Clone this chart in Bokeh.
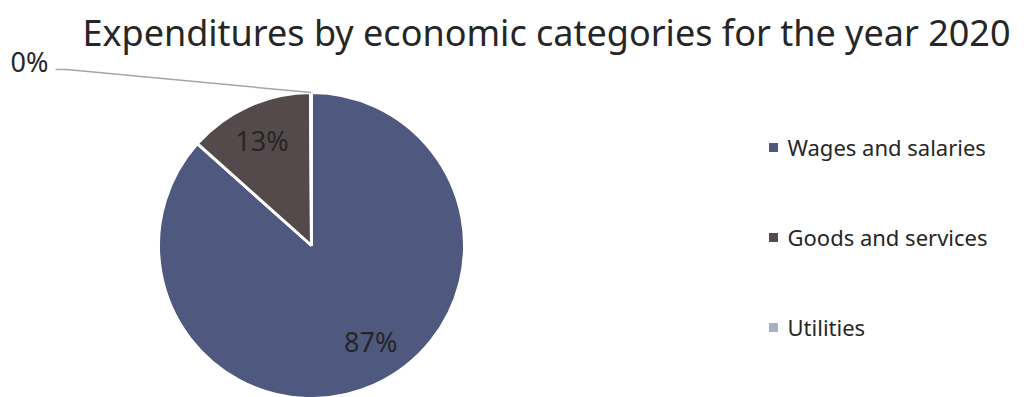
import math
from bokeh.plotting import figure
from bokeh.models import ColumnDataSource, Range1d
from bokeh.core.properties import value
from bokeh.embed import file_html
from bokeh.resources import INLINE

title = "Expenditures by economic categories for the year 2020"
categories = ["Wages and salaries", "Goods and services", "Utilities"]
shares = [86.6, 13.3, 0.1]
labels = ["87%", "13%", "0%"]
colors = ["#4F587F", "#554A4B", "#A8AFCB"]

W, H = 1024, 397
p = figure(width=W, height=H, output_backend="svg", toolbar_location=None,
           x_range=Range1d(0, W), y_range=Range1d(0, H), min_border=0)
p.axis.visible = False
p.grid.visible = False
p.outline_line_color = None
p.background_fill_color = "white"
p.border_fill_color = "white"

FONT = value("Noto Sans")
TXT = "#262626"

cx, cy, r = 311, H - 245, 153
total = sum(shares)
starts, ends, lx, ly = [], [], [], []
cum = 0.0
for s in shares:
    a0 = math.pi / 2 - cum / total * 2 * math.pi
    cum += s
    a1 = math.pi / 2 - cum / total * 2 * math.pi
    starts.append(a0)
    ends.append(a1)
    mid = (a0 + a1) / 2
    lx.append(cx + 0.74 * r * math.cos(mid))
    ly.append(cy + 0.74 * r * math.sin(mid))

src = ColumnDataSource(dict(start=starts, end=ends, color=colors))
p.wedge(x=cx, y=cy, radius=r, start_angle="start", end_angle="end",
        direction="clock", fill_color="color", line_color="white",
        line_width=3, source=src)

# in-slice labels for the two visible slices (nudged like the original's best-fit)
lab_src = ColumnDataSource(dict(x=lx[:2], y=ly[:2], text=labels[:2],
                                dx=[13, -3], dy=[-7, -2]))
p.text(x="x", y="y", text="text", x_offset="dx", y_offset="dy",
       text_align="center", text_baseline="middle", text_font=FONT,
       text_font_size="27px", text_color=TXT, source=lab_src)

# leader line for the tiny slice
mid_u = (starts[2] + ends[2]) / 2
ex, ey = cx + r * math.cos(mid_u), cy + r * math.sin(mid_u)
p.line(x=[55, 66, ex], y=[H - 69, H - 69, ey], line_color="#A6A6A6", line_width=1.5)
p.text(x=[48], y=[H - 61], text=[labels[2]], text_align="right",
       text_baseline="middle", text_font=FONT,
       text_font_size="27px", text_color=TXT)

# title
p.text(x=[546], y=[H - 32], text=[title], text_align="center",
       text_baseline="middle", text_font=FONT,
       text_font_size="36px", text_color=TXT)

# legend
leg_y = [H - (147 + 90 * i) for i in range(len(categories))]
p.scatter(x=[773] * len(categories), y=leg_y, marker="square", size=9,
          fill_color=colors, line_color=None)
p.text(x=[787] * len(categories), y=[v + 1 for v in leg_y], text=categories,
       text_align="left", text_baseline="middle", text_font=FONT,
       text_font_size="22px", text_color=TXT)

open("out.html", "w").write(file_html(p, INLINE))
